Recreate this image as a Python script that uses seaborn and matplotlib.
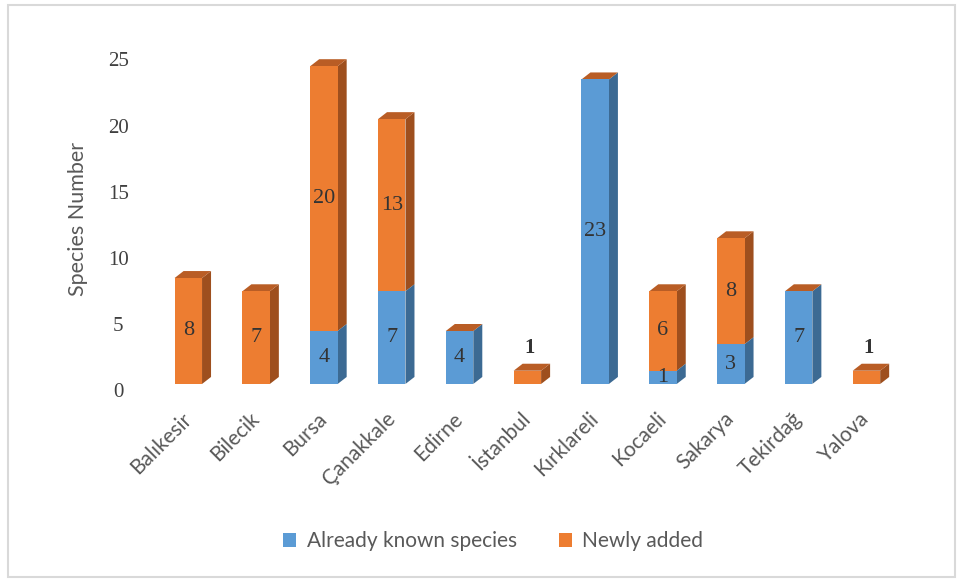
import numpy as np
import pandas as pd
import matplotlib
matplotlib.use("Agg")
import matplotlib.pyplot as plt
import matplotlib.transforms as mtransforms
from matplotlib.patches import Polygon, Rectangle, Patch
import seaborn as sns

# ---------------------- data ----------------------
provinces = ["Balıkesir", "Bilecik", "Bursa", "Çanakkale", "Edirne", "İstanbul",
             "Kırklareli", "Kocaeli", "Sakarya", "Tekirdağ", "Yalova"]
known = [0, 0, 4, 7, 4, 0, 23, 1, 3, 7, 0]
newly = [8, 7, 20, 13, 0, 1, 0, 6, 8, 0, 1]
series_names = ["Already known species", "Newly added"]
y_ticks = [0, 5, 10, 15, 20, 25]

# colours
BLUE, ORANGE = "#5B9BD5", "#ED7D31"
BLUE_SIDE, ORANGE_SIDE = "#3C6A93", "#9E4F1E"
ORANGE_TOP = "#B95D25"
TXT = "#595959"

df = pd.DataFrame({"province": provinces, "known": known, "new": newly})
df["total"] = df["known"] + df["new"]

sns.set_style("white")
fig = plt.figure(figsize=(9.65, 5.8), dpi=100)
ax = fig.add_axes([0.160, 0.338, 0.773, 0.5707])

# stacked bars: total in orange, known in blue in front
sns.barplot(data=df, x="province", y="total", color=ORANGE, width=0.405,
            saturation=1, linewidth=0, edgecolor="none", ax=ax, zorder=2)
n = len(ax.patches)
sns.barplot(data=df, x="province", y="known", color=BLUE, width=0.405,
            saturation=1, linewidth=0, edgecolor="none", ax=ax, zorder=3)
tot_bars = ax.patches[:n]
known_bars = ax.patches[n:]

ax.set_xlim(-0.5, len(provinces) - 0.5)
ax.set_ylim(0, 25)

# 3D-like depth (pixel offsets converted to data units)
dx = 9 / 67.8
dy = 7 / 13.25


def side(x1, y0, y1, color):
    return Polygon([(x1, y0), (x1 + dx, y0 + dy), (x1 + dx, y1 + dy), (x1, y1)],
                   closed=True, facecolor=color, edgecolor="none", zorder=1.5,
                   clip_on=False)


for tb, kb, k, t in zip(tot_bars, known_bars, known, df["total"]):
    x0 = tb.get_x()
    x1 = x0 + tb.get_width()
    if t > k:
        ax.add_patch(side(x1, k, t, ORANGE_SIDE))
    if k > 0:
        ax.add_patch(side(x1, 0, k, BLUE_SIDE))
    top = Polygon([(x0, t), (x0 + dx, t + dy), (x1 + dx, t + dy), (x1, t)],
                  closed=True, facecolor=ORANGE_TOP, edgecolor="none",
                  zorder=1.5, clip_on=False)
    ax.add_patch(top)

# data labels
lab_font = dict(family="Liberation Serif", fontsize=16, color="#333333")
for i, (k, nw) in enumerate(zip(known, newly)):
    if k > 0:
        ax.text(i, k / 2, str(k), ha="center", va="center", zorder=5, **lab_font)
    if nw > 0:
        if nw >= 2:
            ax.text(i, k + nw / 2, str(nw), ha="center", va="center", zorder=5, **lab_font)
        else:
            ax.text(i + 0.03, k + nw + 1.7, str(nw), ha="center", va="center",
                    zorder=5, fontweight="bold", family="Liberation Serif",
                    fontsize=15, color="#333333")

# axes styling
for s in ax.spines.values():
    s.set_visible(False)
ax.set_yticks(y_ticks)
ax.set_yticklabels([str(v) for v in y_ticks], family="Liberation Serif",
                   fontsize=15, color="#404040")
ax.tick_params(axis="y", length=0, pad=26)
offset = mtransforms.ScaledTranslation(0, -6.5 / 100, fig.dpi_scale_trans)
for lbl in ax.get_yticklabels():
    lbl.set_transform(lbl.get_transform() + offset)
    lbl.set_horizontalalignment("center")

ax.set_xticks(range(len(provinces)))
ax.set_xticklabels(provinces, rotation=45, ha="right", rotation_mode="anchor",
                   family="Lato", fontsize=15, color=TXT)
ax.tick_params(axis="x", length=0, pad=20)
xoff = mtransforms.ScaledTranslation(-7 / 100, 3 / 100, fig.dpi_scale_trans)
for lbl in ax.get_xticklabels():
    lbl.set_transform(lbl.get_transform() + xoff)
ax.set_xlabel("")
ax.set_ylabel("Species Number", family="Lato", fontsize=15.5, color=TXT)
ax.yaxis.set_label_coords(-0.089, 0.5)

# legend
handles = [Patch(facecolor=BLUE, edgecolor="none"), Patch(facecolor=ORANGE, edgecolor="none")]
fig.legend(handles, series_names, loc="center", bbox_to_anchor=(0.511, 0.067),
           ncol=2, frameon=False, prop={"family": "Lato", "size": 15},
           labelcolor=TXT, handlelength=0.65, handleheight=0.65, columnspacing=2.0,
           handletextpad=0.5)

# chart border
fig.patches.append(Rectangle((0.008, 0.006), 0.982, 0.986, transform=fig.transFigure,
                             fill=False, edgecolor="#D9D9D9", linewidth=1.5))

plt.savefig("out.png", dpi=100)
